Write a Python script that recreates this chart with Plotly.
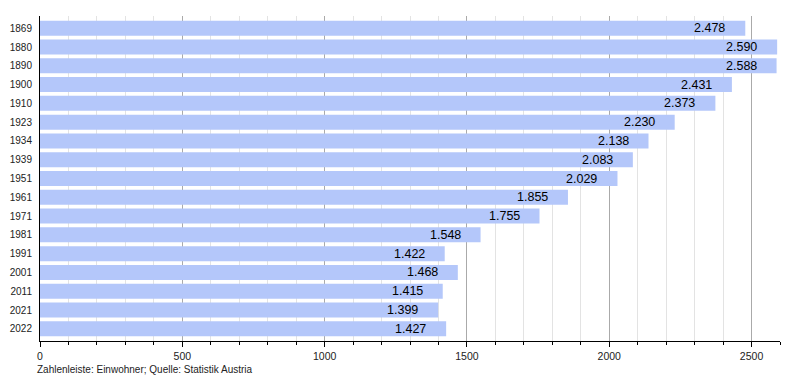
import plotly.graph_objects as go

years = ["1869", "1880", "1890", "1900", "1910", "1923", "1934", "1939", "1951",
         "1961", "1971", "1981", "1991", "2001", "2011", "2021", "2022"]
population = [2478, 2590, 2588, 2431, 2373, 2230, 2138, 2083, 2029,
              1855, 1755, 1548, 1422, 1468, 1415, 1399, 1427]
x_ticks = [0, 500, 1000, 1500, 2000, 2500]
caption = "Zahlenleiste: Einwohner; Quelle: Statistik Austria"

labels = [f"{v:,}".replace(",", ".") for v in population]

fig = go.Figure(go.Bar(
    x=population, y=years, orientation="h",
    marker=dict(color="#b4c7fa", line=dict(width=0)),
    textposition="none",
))

# value labels: placed at the bar end (category index on the y axis)
annotations = [dict(x=v, y=i, xref="x", yref="y", text=t, showarrow=False,
                    xanchor="right", yanchor="middle", xshift=-18,
                    font=dict(size=12.5, color="black"))
               for i, (v, t) in enumerate(zip(population, labels))]
annotations.append(dict(text=caption, xref="paper", yref="paper", x=-0.007, y=-0.066,
                        xanchor="left", yanchor="top", showarrow=False,
                        font=dict(size=10, color="#222")))

fig.update_layout(
    width=800, height=380,
    margin=dict(l=40, r=20, t=16, b=39),
    plot_bgcolor="white", paper_bgcolor="white",
    bargap=0.2,
    font=dict(family="Liberation Sans, Arial", size=11, color="#222"),
    showlegend=False,
    annotations=annotations,
)
fig.update_xaxes(
    range=[0, 2600], tickvals=x_ticks, ticks="outside", ticklen=5, tickcolor="black",
    showgrid=True, gridcolor="#aaaaaa", gridwidth=1,
    minor=dict(dtick=100, tick0=0, showgrid=True, gridcolor="#e3e3e3",
               ticks="outside", ticklen=3, tickcolor="black"),
    showline=True, linecolor="black", linewidth=1, zeroline=False,
    tickfont=dict(size=10.5, color="#222"), automargin=False,
)
fig.update_yaxes(
    type="category", categoryorder="array", categoryarray=years,
    range=[16.65, -0.65],
    showline=True, linecolor="black", linewidth=1, ticks="", showgrid=False,
    ticklabelstandoff=5, tickfont=dict(size=10, color="#222"), automargin=False,
)

fig.write_html("out.html", config={"displayModeBar": False},
               post_script="document.body.style.margin='0';document.body.style.overflow='hidden';")
